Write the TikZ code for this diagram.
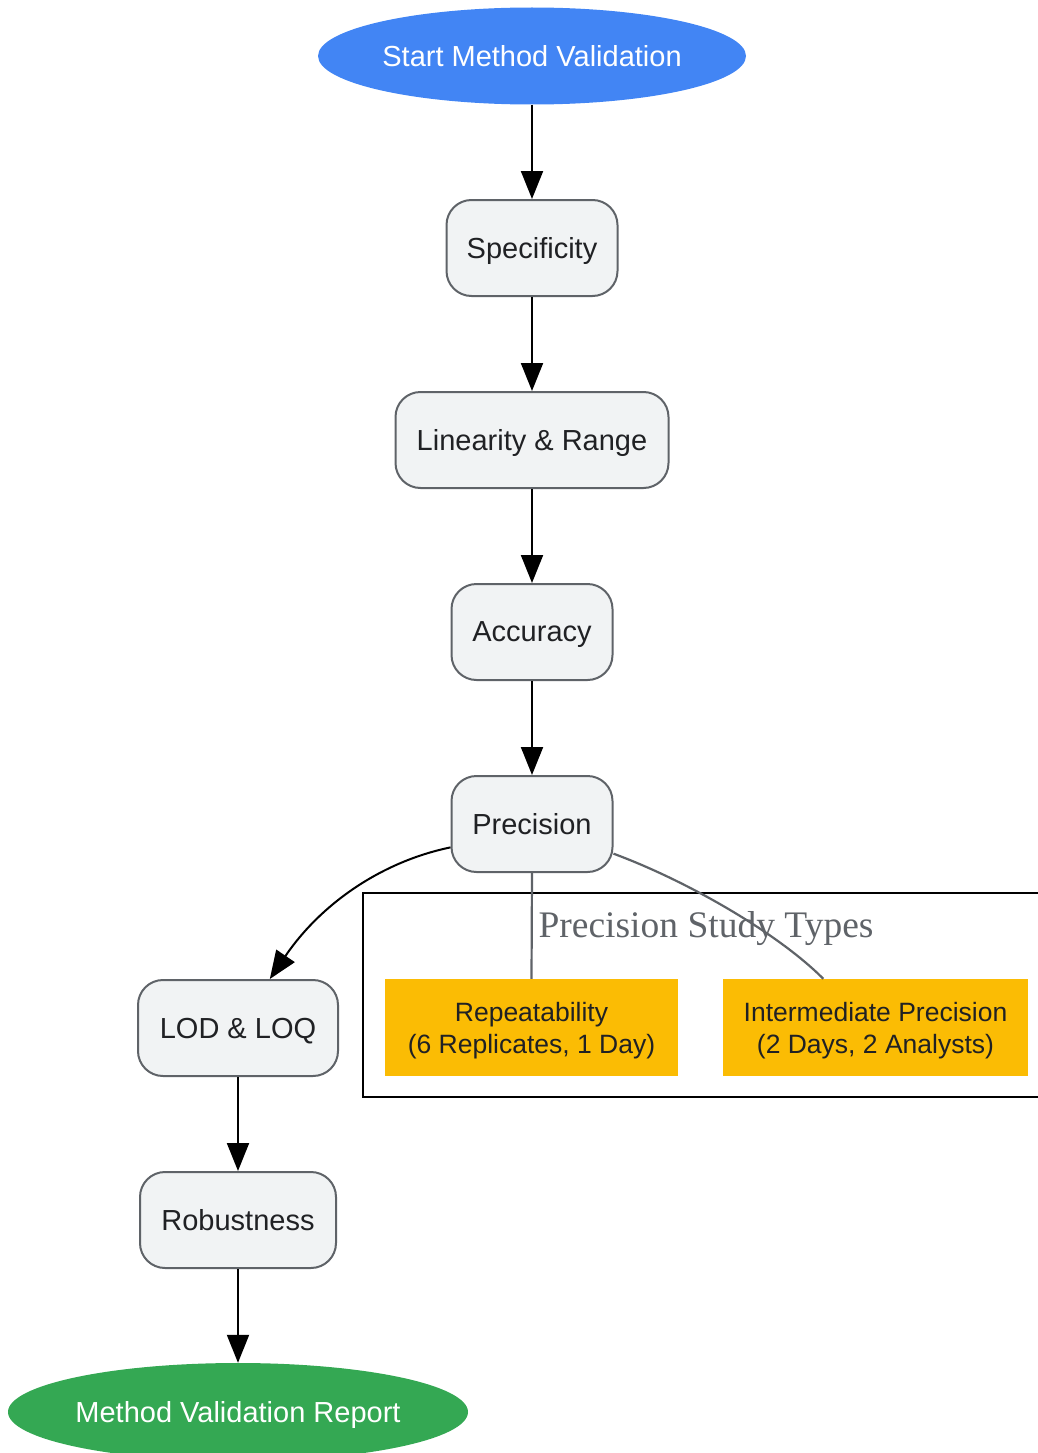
\documentclass[tikz,border=0pt]{standalone}
\usepackage{fontspec}
\setmainfont{Liberation Sans}
\newfontfamily\titlefont{Liberation Serif}
\usetikzlibrary{shapes.geometric,arrows.meta}
\definecolor{gblue}{HTML}{4285F4}
\definecolor{ggreen}{HTML}{34A853}
\definecolor{gyellow}{HTML}{FBBC04}
\definecolor{boxfill}{HTML}{F1F3F4}
\definecolor{boxline}{HTML}{5F6368}
\definecolor{txt}{HTML}{202124}
\tikzset{
  stepbox/.style={draw=boxline, line width=2pt, fill=boxfill, rounded corners=25pt,
    minimum height=96pt, inner xsep=20pt, text depth=0pt, text=txt, font=\fontsize{29}{35}\selectfont},
  termnode/.style={ellipse, inner sep=0pt, text depth=0pt, text=white, font=\fontsize{29}{35}\selectfont},
  subbox/.style={fill=gyellow, minimum height=97pt, inner sep=0pt, text=txt, text depth=0pt,
    align=center, font=\fontsize{26.5}{32}\selectfont},
  flow/.style={draw=black, line width=2pt, -{Triangle[length=28pt,width=22pt]}},
  link/.style={draw=boxline, line width=2.2pt},
}
\begin{document}
\begin{tikzpicture}[x=1pt,y=-1pt]
\useasboundingbox (0,0) rectangle (1038,1453);
\clip (0,0) rectangle (1038,1453);
% cluster
\draw[black, line width=2pt] (363,893) rectangle (1060,1097);
\node[text=boxline, font=\titlefont\fontsize{37.5}{40}\selectfont] (ctitle) at (706,929) {Precision Study Types};
% nodes
\node[termnode, fill=gblue, minimum width=428pt, minimum height=97pt] (start) at (532,56) {Start Method Validation};
\node[stepbox, minimum width=171pt] (spec) at (532,248) {Specificity};
\node[stepbox, minimum width=273pt] (lin) at (532,440) {Linearity \& Range};
\node[stepbox, minimum width=161pt] (acc) at (532,632) {Accuracy};
\node[stepbox, minimum width=161pt] (prec) at (532,824) {Precision};
\node[stepbox, minimum width=200pt] (lod) at (238,1028) {LOD \& LOQ};
\node[stepbox, minimum width=196pt] (rob) at (238,1220) {Robustness};
\node[termnode, fill=ggreen, minimum width=460pt, minimum height=98pt] (rep) at (238,1412) {Method Validation Report};
\node[subbox, minimum width=293pt] (repeat) at (531.5,1027.5) {Repeatability\\(6 Replicates, 1 Day)};
\node[subbox, minimum width=305pt] (inter) at (875.5,1027.5) {Intermediate Precision\\(2 Days, 2 Analysts)};
% edges
\draw[flow] (start) -- (spec);
\draw[flow] (spec) -- (lin);
\draw[flow] (lin) -- (acc);
\draw[flow] (acc) -- (prec);
\draw[flow] (prec.196) .. controls (380,862) and (320,905) .. (lod.57);
\draw[flow] (lod) -- (rob);
\draw[flow] (rob) -- (rep);
\draw[link] (prec.south) -- (repeat.north);
\draw[link] (prec.-20) .. controls (690,882) and (780,935) .. (inter.137);
\end{tikzpicture}
\end{document}
